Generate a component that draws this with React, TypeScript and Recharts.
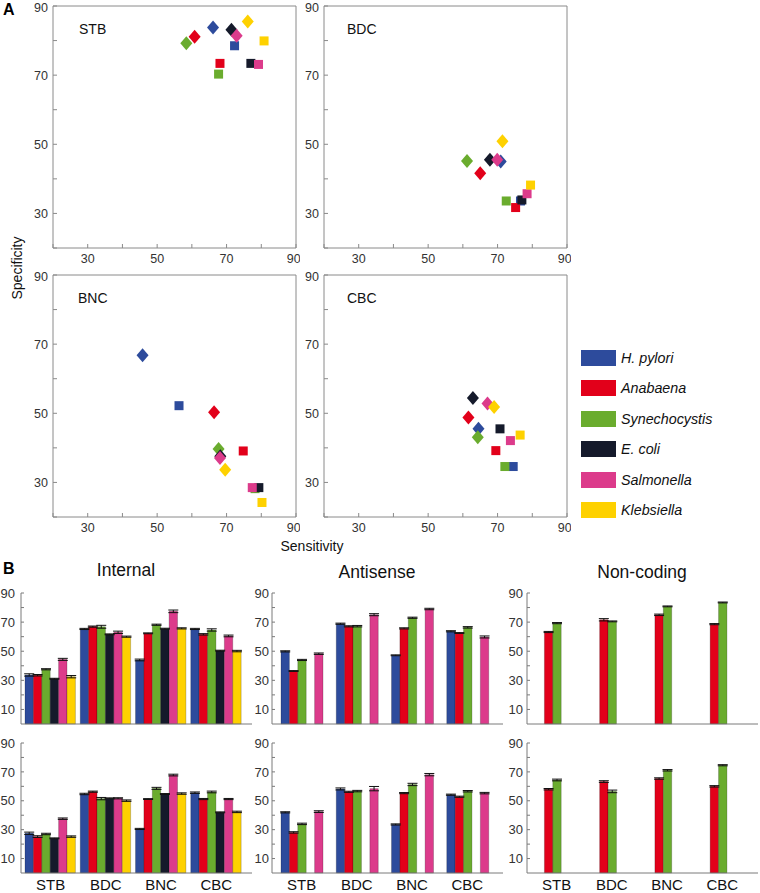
import React from "react";
import { ScatterChart, Scatter, XAxis, YAxis, BarChart, Bar, ErrorBar } from "recharts";

const SPECIES = ["H. pylori", "Anabaena", "Synechocystis", "E. coli", "Salmonella", "Klebsiella"];
const COLORS = ["#2d4b9c", "#e2001a", "#6aac2e", "#151a2b", "#dc3b8b", "#fed100"];
const CATEGORIES = ["STB", "BDC", "BNC", "CBC"];

const SCATTER_TICKS = [20, 30, 40, 50, 60, 70, 80, 90];
const SCATTER_LABELS = [30, 50, 70, 90];
const BAR_TICKS = [10, 20, 30, 40, 50, 60, 70, 80, 90];
const BAR_LABELS = [10, 30, 50, 70, 90];

// [sensitivity, specificity], one pair per species (SPECIES order)
const STB_DIAMONDS = [[66.1, 83.8], [60.8, 81.1], [58.4, 79.2], [71.4, 83.1], [72.9, 81.4], [76.1, 85.5]];
const STB_SQUARES = [[72.3, 78.5], [68.1, 73.4], [67.7, 70.3], [77.0, 73.4], [79.2, 73.1], [80.8, 79.9]];
const BDC_DIAMONDS = [[70.9, 45.0], [65.0, 41.6], [61.2, 45.2], [67.8, 45.5], [69.9, 45.5], [71.4, 50.9]];
const BDC_SQUARES = [[76.6, 33.6], [75.2, 31.7], [72.5, 33.6], [77.0, 33.9], [78.5, 35.7], [79.5, 38.2]];
const BNC_DIAMONDS = [[45.8, 66.8], [66.4, 50.3], [67.7, 39.7], [68.2, 37.6], [68.1, 37.1], [69.6, 33.7]];
const BNC_SQUARES = [[56.3, 52.2], [74.8, 39.1], [78.2, 28.2], [79.3, 28.5], [77.4, 28.5], [80.2, 24.2]];
const CBC_DIAMONDS = [[64.5, 45.5], [61.6, 48.8], [64.3, 43.1], [62.9, 54.4], [67.1, 52.8], [69.0, 51.8]];
const CBC_SQUARES = [[74.5, 34.6], [69.5, 39.2], [72.1, 34.6], [70.7, 45.5], [73.7, 42.1], [76.5, 43.7]];

// bar values: rows = categories, columns = species slots (null = empty slot)
const INTERNAL_TOP = [
  [33.7, 33.5, 37.6, 31.1, 44.4, 32.5],
  [65.3, 66.9, 66.8, 61.6, 63.0, 60.0],
  [44.0, 62.3, 68.2, 65.5, 77.4, 65.7],
  [65.3, 61.6, 64.6, 50.4, 60.5, 50.1],
];
const INTERNAL_BOTTOM = [
  [27.5, 25.2, 27.0, 24.0, 37.6, 25.2],
  [54.7, 56.3, 51.5, 51.7, 51.7, 50.1],
  [30.5, 51.2, 58.6, 54.7, 67.8, 55.0],
  [55.6, 51.2, 56.1, 42.0, 51.2, 42.3],
];
const ANTISENSE_TOP = [
  [49.9, 36.4, 44.0, null, 48.3],
  [68.9, 67.1, 67.2, null, 75.1],
  [47.2, 65.7, 73.0, null, 79.0],
  [63.7, 62.5, 66.4, null, 59.8],
];
const ANTISENSE_BOTTOM = [
  [42.0, 28.1, 34.0, null, 42.5],
  [58.2, 56.2, 56.7, null, 58.4],
  [33.6, 55.3, 61.3, null, 68.1],
  [54.2, 52.8, 56.6, null, 55.3],
];
const NONCODING_TOP = [
  [null, 63.2, 69.3, null, null],
  [null, 71.6, 70.5, null, null],
  [null, 75.0, 80.8, null, null],
  [null, 68.6, 83.5, null, null],
];
const NONCODING_BOTTOM = [
  [null, 58.0, 64.4, null, null],
  [null, 63.3, 56.5, null, null],
  [null, 65.4, 71.1, null, null],
  [null, 60.0, 74.6, null, null],
];

// error bar half-lengths, same layout
const INTERNAL_TOP_ERR = [
  [0.8, 0.5, 0.4, 0.3, 0.7, 0.8],
  [0.4, 0.4, 1.0, 0.3, 0.8, 0.4],
  [0.6, 0.3, 0.4, 0.3, 0.9, 0.4],
  [0.4, 0.5, 0.8, 0.3, 0.6, 0.5],
];
const INTERNAL_BOTTOM_ERR = [
  [0.8, 0.6, 0.5, 0.3, 0.5, 0.5],
  [0.5, 0.4, 0.8, 0.3, 0.4, 0.5],
  [0.4, 0.3, 0.7, 0.3, 0.6, 0.5],
  [0.5, 0.4, 0.6, 0.3, 0.4, 0.5],
];
const ANTISENSE_TOP_ERR = [
  [0.4, 0.3, 0.4, null, 0.5],
  [0.4, 0.4, 0.5, null, 0.7],
  [0.3, 0.4, 0.4, null, 0.5],
  [0.4, 0.3, 0.5, null, 0.7],
];
const ANTISENSE_BOTTOM_ERR = [
  [0.4, 0.5, 0.5, null, 0.6],
  [0.7, 0.4, 0.5, null, 1.5],
  [0.4, 0.4, 0.8, null, 0.8],
  [0.4, 0.4, 0.5, null, 0.5],
];
const NONCODING_TOP_ERR = [
  [null, 0.4, 0.4, null, null],
  [null, 0.8, 0.3, null, null],
  [null, 0.5, 0.3, null, null],
  [null, 0.4, 0.3, null, null],
];
const NONCODING_BOTTOM_ERR = [
  [null, 0.5, 0.6, null, null],
  [null, 0.6, 0.9, null, null],
  [null, 0.5, 0.5, null, null],
  [null, 0.5, 0.4, null, null],
];

const FONT = "'Liberation Sans', Arial, Helvetica, sans-serif";
const BOX = "#8a8a8a";
const TXT = "#333";

const diamondShape = (color: string) => (p: any) => (
  <polygon
    points={`${p.cx},${p.cy - 7} ${p.cx + 6},${p.cy} ${p.cx},${p.cy + 7} ${p.cx - 6},${p.cy}`}
    fill={color}
  />
);
const squareShape = (color: string) => (p: any) => (
  <rect x={p.cx - 4.5} y={p.cy - 4.5} width={9} height={9} fill={color} />
);

function ScatterPanel({ label, diamonds, squares, left, top, labelX }: any) {
  const axisLine = { stroke: BOX };
  return (
    <div style={{ position: "absolute", left, top, width: 300, height: 270 }}>
      <ScatterChart width={300} height={270} margin={{ top: 5, right: 3, bottom: 0, left: 0 }}>
        <XAxis
          type="number"
          dataKey="x"
          domain={[20, 90]}
          ticks={SCATTER_TICKS}
          tickFormatter={(v: number) => (SCATTER_LABELS.includes(v) ? String(v) : "")}
          height={22}
          tickSize={-4}
          tickMargin={10}
          axisLine={axisLine}
          tickLine={axisLine}
          tick={{ fill: TXT, fontSize: 12.5 }}
        />
        <XAxis
          xAxisId="top"
          orientation="top"
          type="number"
          domain={[20, 90]}
          ticks={SCATTER_TICKS}
          tickFormatter={() => ""}
          height={1}
          tickSize={-4}
          axisLine={axisLine}
          tickLine={axisLine}
        />
        <YAxis
          type="number"
          dataKey="y"
          domain={[20, 90]}
          ticks={SCATTER_TICKS}
          tickFormatter={(v: number) => (SCATTER_LABELS.includes(v) ? String(v) : "")}
          width={53}
          tickSize={-4}
          tickMargin={9}
          axisLine={axisLine}
          tickLine={axisLine}
          tick={{ fill: TXT, fontSize: 12.5 }}
        />
        <YAxis
          yAxisId="right"
          orientation="right"
          type="number"
          domain={[20, 90]}
          ticks={SCATTER_TICKS}
          tickFormatter={() => ""}
          width={1}
          tickSize={-4}
          axisLine={axisLine}
          tickLine={axisLine}
        />
        {squares.map(([x, y]: number[], i: number) => (
          <Scatter
            key={"s" + i}
            data={[{ x, y }]}
            fill={COLORS[i]}
            shape={squareShape(COLORS[i])}
            isAnimationActive={false}
          />
        ))}
        {diamonds.map(([x, y]: number[], i: number) => (
          <Scatter
            key={"d" + i}
            data={[{ x, y }]}
            fill={COLORS[i]}
            shape={diamondShape(COLORS[i])}
            isAnimationActive={false}
          />
        ))}
      </ScatterChart>
      <div style={{ position: "absolute", left: labelX, top: 21, fontSize: 14, lineHeight: "16px", color: "#111" }}>
        {label}
      </div>
    </div>
  );
}

function BarPanel({ rows, errs, left, top, showX, yTickMargin }: any) {
  const data = CATEGORIES.map((cat, i) => {
    const d: any = { cat };
    rows[i].forEach((v: number | null, j: number) => {
      d["v" + j] = v;
      d["e" + j] = errs[i][j];
    });
    return d;
  });
  const height = showX ? 158 : 140;
  const axisLine = { stroke: "#7a7a7a" };
  return (
    <div style={{ position: "absolute", left, top }}>
      <BarChart
        width={252}
        height={height}
        data={data}
        margin={{ top: 8, right: 0, bottom: 0, left: 0 }}
        barGap={0}
        barCategoryGap={0}
      >
        <XAxis
          dataKey="cat"
          padding={{ left: 2, right: 8 }}
          axisLine={axisLine}
          tickLine={false}
          tick={showX ? { fill: "#111", fontSize: 15 } : false}
          height={showX ? 20 : 1}
          tickSize={0}
          tickMargin={6}
          interval={0}
        />
        <YAxis
          type="number"
          domain={[0, 90]}
          ticks={BAR_TICKS}
          tickFormatter={(v: number) => (BAR_LABELS.includes(v) ? String(v) : "")}
          width={21}
          tickSize={-3}
          tickMargin={yTickMargin}
          axisLine={axisLine}
          tickLine={axisLine}
          tick={{ fill: TXT, fontSize: 13 }}
        />
        {rows[0].map((_: any, j: number) => {
          const empty = rows.every((r: any[]) => r[j] == null);
          return (
            <Bar
              key={j}
              dataKey={"v" + j}
              fill={COLORS[j]}
              stroke="#000"
              strokeOpacity={0.35}
              strokeWidth={0.6}
              barSize={8.4}
              isAnimationActive={false}
            >
              {!empty && <ErrorBar dataKey={"e" + j} width={5} stroke="#111" strokeWidth={1} direction="y" />}
            </Bar>
          );
        })}
      </BarChart>
    </div>
  );
}

export default function App() {
  return (
    <div
      style={{
        position: "absolute",
        left: 0,
        top: 0,
        width: 760,
        height: 893,
        background: "#fff",
        fontFamily: FONT,
        overflow: "hidden",
      }}
    >
      <div style={{ position: "absolute", left: 3, top: 1, fontSize: 16, fontWeight: "bold" }}>A</div>
      <div style={{ position: "absolute", left: 3, top: 560, fontSize: 16, fontWeight: "bold" }}>B</div>

      <ScatterPanel label="STB" diamonds={STB_DIAMONDS} squares={STB_SQUARES} left={0} top={0} labelX={79} />
      <ScatterPanel label="BDC" diamonds={BDC_DIAMONDS} squares={BDC_SQUARES} left={271} top={0} labelX={76} />
      <ScatterPanel label="BNC" diamonds={BNC_DIAMONDS} squares={BNC_SQUARES} left={0} top={269} labelX={78} />
      <ScatterPanel label="CBC" diamonds={CBC_DIAMONDS} squares={CBC_SQUARES} left={271} top={269} labelX={76} />

      <div style={{ position: "absolute", left: 250, width: 124, top: 538, textAlign: "center", fontSize: 14, color: "#111" }}>
        Sensitivity
      </div>
      <div
        style={{
          position: "absolute",
          left: 17,
          top: 268,
          fontSize: 14,
          color: "#111",
          whiteSpace: "nowrap",
          transform: "translate(-50%, -50%) rotate(-90deg)",
        }}
      >
        Specificity
      </div>

      {SPECIES.map((s, i) => (
        <div key={s} style={{ position: "absolute", left: 581, top: 350 + i * 30.4, height: 16, display: "flex", alignItems: "center" }}>
          <div style={{ width: 35, height: 16, background: COLORS[i] }} />
          <span style={{ marginLeft: 5, fontSize: 14.3, fontStyle: "italic", color: "#111" }}>{s}</span>
        </div>
      ))}

      <div style={{ position: "absolute", left: 66, width: 120, top: 560, textAlign: "center", fontSize: 17.5, color: "#111" }}>Internal</div>
      <div style={{ position: "absolute", left: 317, width: 120, top: 562, textAlign: "center", fontSize: 17.5, color: "#111" }}>Antisense</div>
      <div style={{ position: "absolute", left: 572, width: 140, top: 562, textAlign: "center", fontSize: 17.5, color: "#111" }}>Non-coding</div>

      <BarPanel rows={INTERNAL_TOP} errs={INTERNAL_TOP_ERR} left={0} top={585} showX={false} yTickMargin={9} />
      <BarPanel rows={INTERNAL_BOTTOM} errs={INTERNAL_BOTTOM_ERR} left={0} top={735} showX={true} yTickMargin={9} />
      <BarPanel rows={ANTISENSE_TOP} errs={ANTISENSE_TOP_ERR} left={251} top={585} showX={false} yTickMargin={6} />
      <BarPanel rows={ANTISENSE_BOTTOM} errs={ANTISENSE_BOTTOM_ERR} left={251} top={735} showX={true} yTickMargin={6} />
      <BarPanel rows={NONCODING_TOP} errs={NONCODING_TOP_ERR} left={506} top={585} showX={false} yTickMargin={7} />
      <BarPanel rows={NONCODING_BOTTOM} errs={NONCODING_BOTTOM_ERR} left={506} top={735} showX={true} yTickMargin={7} />
    </div>
  );
}
